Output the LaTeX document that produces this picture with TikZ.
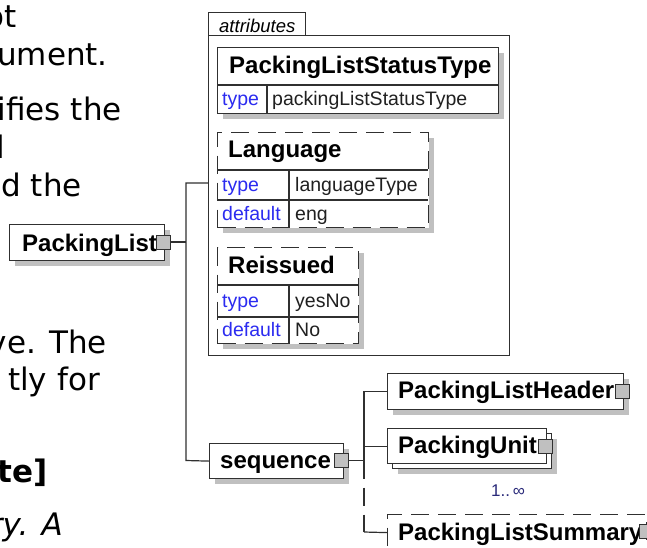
\documentclass[tikz,border=0pt]{standalone}
\usepackage{fontspec}
\setmainfont{Liberation Sans}
\newfontfamily\bodyfont{DejaVu Sans}
\usetikzlibrary{shadows}
\definecolor{linec}{HTML}{303030}
\definecolor{shadowc}{HTML}{C0C0C0}
\definecolor{keyc}{HTML}{2B2BF0}
\definecolor{valc}{HTML}{202020}
\definecolor{occc}{HTML}{2A2A7A}
\begin{document}
\begin{tikzpicture}[x=1pt,y=-1pt,
  ln/.style={draw=linec, line width=1.2pt},
  shad/.style={general shadow={fill=shadowc, shadow xshift=5pt, shadow yshift=-5pt}},
  ebox/.style={rectangle, ln, fill=white, shad, inner sep=0pt, anchor=north west, minimum height=36pt},
  eplain/.style={rectangle, ln, fill=white, inner sep=0pt, anchor=north west, minimum height=35pt},
  optbox/.style={ebox, dash pattern=on 18pt off 9pt},
  tbl/.style={rectangle, draw=linec, line width=1.2pt, fill=white, shad, inner sep=0pt, anchor=north west},
  opttbl/.style={tbl, dash pattern=on 18pt off 9pt},
  csq/.style={rectangle, draw=linec, line width=1pt, fill=shadowc, minimum size=14pt, inner sep=0pt},
  ename/.style={font=\fontsize{24}{26}\selectfont\bfseries, text=black, inner sep=0pt, anchor=base west},
  key/.style={font=\fontsize{19.5}{22}\selectfont, text=keyc, inner sep=0pt, anchor=base west},
  val/.style={font=\fontsize{19.5}{22}\selectfont, text=valc, inner sep=0pt, anchor=base west},
  body/.style={font=\bodyfont\fontsize{31}{36}\selectfont, inner sep=0pt, anchor=base east},
  conn/.style={draw=linec, line width=1.2pt},
  optconn/.style={conn, dash pattern=on 18pt off 9pt},
  inner/.style={draw=linec, line width=1.2pt}
]
\useasboundingbox (0,0) rectangle (647,547);
\clip (0,0) rectangle (647,547);
\fill[white] (0,0) rectangle (647,547);

% body text (cut off at the left)
\node[body] (b1) at (17,27) {ot};
\node[body] (b2) at (108,65) {ument.};
\node[body] (b3) at (122,120) {ifies the};
\node[body] (b4) at (5.5,158) {l};
\node[body] (b5) at (82,196) {d the};
\node[body] (b6) at (107,353) {ve. The};
\node[body] (b7) at (100,390) {tly for};
\node[body, font=\bodyfont\fontsize{31}{36}\selectfont\bfseries] (b8) at (48,482) {te]};
\node[body, font=\bodyfont\fontsize{31}{36}\selectfont\itshape] (b9) at (63,535) {ry. A};

% attributes container
\node[rectangle, draw=linec, line width=1pt, inner sep=0pt, anchor=north west,
      minimum width=301pt, minimum height=320pt] (attrs) at (208,35) {};
\draw[draw=linec, line width=1pt] (attrs.north west) -- ++(0,-23) -- ++(97,0) -- ++(0,23);
\node[font=\fontsize{18.5}{20}\selectfont\itshape, inner sep=0pt, anchor=base west] (attrlbl) at (219,32) {attributes};

% PackingListStatusType
\node[tbl, minimum width=281pt, minimum height=66pt] (plst) at (217,47) {};
\draw[inner] (217,85) -- (498,85) (267,85) -- (267,113);
\node[ename] (plstn) at (229,73) {PackingListStatusType};
\node[key] (plstk) at (222,105) {type};
\node[val] (plstv) at (272,105) {packingListStatusType};

% Language
\node[opttbl, minimum width=211pt, minimum height=95pt] (lang) at (217,132) {};
\draw[inner] (217,170) -- (428,170) (217,200) -- (428,200) (289,170) -- (289,227);
\node[ename] (langn) at (228,157) {Language};
\node[key] (langk1) at (222,191) {type};
\node[val] (langv1) at (295,191) {languageType};
\node[key] (langk2) at (222,220) {default};
\node[val] (langv2) at (295,220) {eng};

% Reissued
\node[opttbl, minimum width=141pt, minimum height=96pt] (reis) at (217,247) {};
\draw[inner] (217,285) -- (358,285) (217,317) -- (358,317) (289,285) -- (289,343);
\node[ename] (reisn) at (228,273) {Reissued};
\node[key] (reisk1) at (222,307) {type};
\node[val] (reisv1) at (295,307) {yesNo};
\node[key] (reisk2) at (222,336) {default};
\node[val] (reisv2) at (295,336) {No};

% junction points
\coordinate (tj) at (186,242);
\coordinate (ta) at (186,183);
\coordinate (ts) at (186,460.5);
\coordinate (sj) at (364,460.5);
\coordinate (sb) at (364,532);

% PackingList
\node[ebox, minimum width=155pt] (pl) at (9,224) {};
\node[ename] (pln) at (22,251) {PackingList};

% sequence
\node[ebox, minimum width=134pt, minimum height=35pt] (seq) at (209,443) {};
\node[ename] (seqn) at (220,468) {sequence};

% PackingListHeader
\node[ebox, minimum width=236pt] (plh) at (387,373) {};
\node[ename] (plhn) at (398,398) {PackingListHeader};

% PackingUnit (repeated)
\node[ebox, minimum width=159pt, minimum height=35pt] (pub) at (392,433) {};
\node[eplain, minimum width=159pt] (pu) at (387,428) {};
\node[ename] (pun) at (398,453) {PackingUnit};
\node[font=\fontsize{17}{19}\selectfont, text=occc, inner sep=0pt, anchor=base west] (occ) at (491,496) {1..\,∞};

% PackingListSummary
\node[optbox, minimum width=259pt] (psum) at (387,514) {};
\node[ename] (psumn) at (398,540) {PackingListSummary};

% connector squares
\node[csq] (plc) at (163.5,242) {};
\node[csq] (seqc) at (341.5,460.5) {};
\node[csq] (plhc) at (622,391) {};
\node[csq] (puc) at (545.5,446.5) {};
\node[csq] (psumc) at (646,531) {};

% connectors
\draw[conn] (plc.east) -- (tj);
\draw[conn] (ta -| attrs.west) -- (ta) -- (ts) -- (seq.west);
\draw[conn] (seqc.east) -- (sj);
\draw[conn] (plh.west) -- (plh.west -| sj) -- (sj);
\draw[conn] (pu.west) -- (pu.west -| sj);
\draw[optconn] (sj) -- (sb);
\draw[conn] (sb) -- (psum.west);
\end{tikzpicture}
\end{document}
